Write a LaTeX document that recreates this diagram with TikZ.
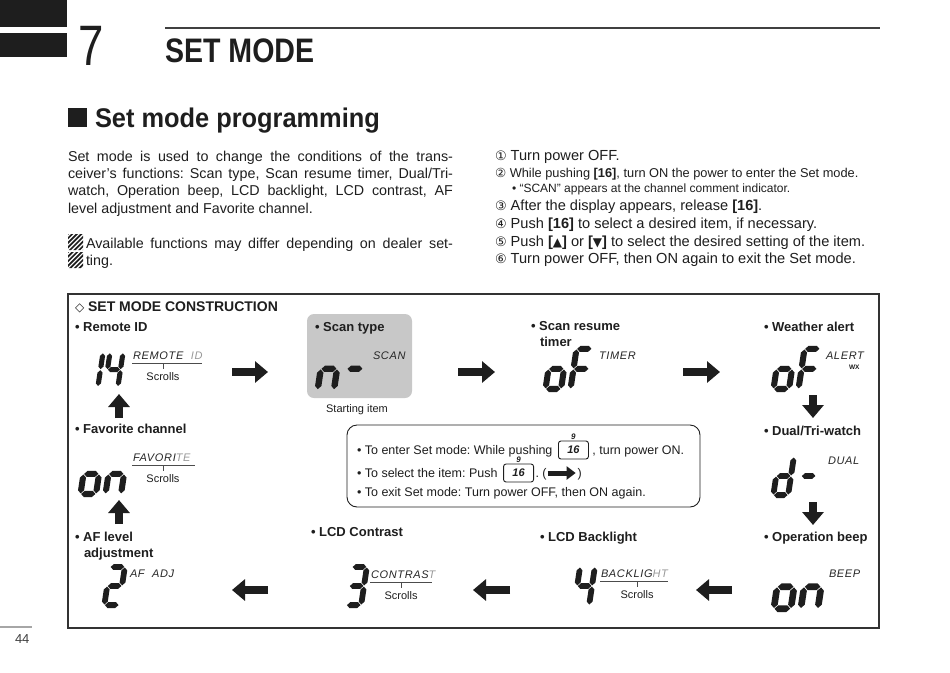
\documentclass[tikz,border=0pt]{standalone}
\usepackage{fontspec}
\usepackage{graphicx}
\setmainfont{Liberation Sans}
\newfontfamily\symf{DejaVu Sans}
\newfontfamily\lcdfont{Liberation Sans}[LetterSpace=6]
\usetikzlibrary{arrows.meta}
\definecolor{boxgray}{RGB}{200,200,200}
\definecolor{ink}{RGB}{30,30,30}
\frenchspacing

% seven-segment pieces (local frame: y up, width 20, height 44)
\newcommand\lcdh[3]{\fill (#1,#3) -- (#1+2.9,#3+2.9) -- (#2-2.9,#3+2.9) -- (#2,#3) -- (#2-2.9,#3-2.9) -- (#1+2.9,#3-2.9) -- cycle;}
\newcommand\lcdv[3]{\fill (#1,#2) -- (#1+2.9,#2+2.9) -- (#1+2.9,#3-2.9) -- (#1,#3) -- (#1-2.9,#3-2.9) -- (#1-2.9,#2+2.9) -- cycle;}
\newcommand\lcdsega{\lcdh{3.5}{17.1}{41.1}}
\newcommand\lcdsegg{\lcdh{3.5}{17.1}{22}}
\newcommand\lcdsegd{\lcdh{3.5}{17.1}{2.9}}
\newcommand\lcdsegf{\lcdv{2.9}{22.6}{40.5}}
\newcommand\lcdsege{\lcdv{2.9}{3.5}{21.4}}
\newcommand\lcdsegb{\lcdv{17.7}{22.6}{40.5}}
\newcommand\lcdsegc{\lcdv{17.7}{3.5}{21.4}}
\newcommand\lcdchar[4]{\begin{scope}[shift={(#1,#2)},scale=#3,xslant=0.15,yscale=-1]\foreach \s in {#4}{\csname lcdseg\s\endcsname}\end{scope}}

\begin{document}
\begin{tikzpicture}[x=1pt,y=-1pt,
  every node/.style={inner sep=0pt,outer sep=0pt,text=ink},
  t14/.style={anchor=base west,font=\fontsize{14.3}{17}\selectfont},
  r14/.style={anchor=base west,font=\fontsize{14.6}{17}\selectfont},
  t12/.style={anchor=base west,font=\fontsize{12.5}{15}\selectfont},
  r12/.style={anchor=base west,font=\fontsize{12.8}{15}\selectfont},
  t11/.style={anchor=base west,font=\fontsize{12}{14}\selectfont},
  lbl/.style={anchor=base west,font=\bfseries\fontsize{13}{15}\selectfont},
  sm/.style={anchor=base,font=\fontsize{11}{13}\selectfont},
  lcd/.style={anchor=base west,font=\lcdfont\itshape\fontsize{11}{13}\selectfont,text=black!85},
  barrow/.style={line width=7.5pt,-{Triangle[length=13pt,width=21pt]},ink},
  sarrow/.style={line width=5pt,-{Triangle[length=9pt,width=13pt]},ink},
  scrollmark/.style={line width=0.6pt,black!70},
  keycap/.style={draw=ink,line width=0.9pt,rounded corners=2.5pt,minimum width=30pt,minimum height=18pt,
    anchor=west,font=\bfseries\itshape\fontsize{11}{11}\selectfont,
    label={[font=\bfseries\itshape\fontsize{8}{8}\selectfont,yshift=1.5pt]above:9}}]
\fill[white] (0,0) rectangle (950,672);
\useasboundingbox (0,0) rectangle (950,672);

% ---------- header ----------
\fill[ink] (0,0) rectangle (67,27);
\fill[ink] (0,33) rectangle (67,57);
\node[anchor=base west,font=\fontsize{57}{57}\selectfont] (chapnum) at (78,65) {\scalebox{0.8}[1]{7}};
\draw[line width=2pt,black!75] (165,28) -- (880,28);
\node[anchor=base west,font=\bfseries\fontsize{34}{34}\selectfont] (chaptitle) at (165,62) {\scalebox{0.84}[1]{SET MODE}};
\fill[ink] (68,108) rectangle (87,127);
\node[anchor=base west,font=\bfseries\fontsize{27}{27}\selectfont] (sectitle) at (95,127) {\scalebox{0.94}[1]{Set mode programming}};

% ---------- left paragraph ----------
\node[t14] (p1) at (68,161) {\makebox[385pt][s]{Set mode is used to change the conditions of the trans-}};
\node[t14] (p2) at (68,178) {\makebox[385pt][s]{ceiver’s functions: Scan type, Scan resume timer, Dual/Tri-}};
\node[t14] (p3) at (68,195) {\makebox[385pt][s]{watch, Operation beep, LCD backlight, LCD contrast, AF}};
\node[t14] (p4) at (68,213) {level adjustment and Favorite channel.};
\begin{scope}
  \clip (68,234) rectangle (83,250) (68,252) rectangle (83,268);
  \foreach \i in {-10,...,12} \draw[line width=1.7pt,ink] (50+\i*4.6,270) -- (90+\i*4.6,230);
\end{scope}
\node[t14] (n1) at (86,248) {\makebox[367pt][s]{Available functions may differ depending on dealer set-}};
\node[t14] (n2) at (86,265) {ting.};

% ---------- right list ----------
\node[r14] (s1) at (495,160) {{\symf\fontsize{13}{13}\selectfont ①} Turn power OFF.};
\node[r12] (s2) at (495,177) {{\symf\fontsize{12.5}{13}\selectfont ②} While pushing \textbf{[16]}, turn ON the power to enter the Set mode.};
\node[t11] (s2b) at (512,192) {• “SCAN” appears at the channel comment indicator.};
\node[r14] (s3) at (495,210) {{\symf\fontsize{13}{13}\selectfont ③} After the display appears, release \textbf{[16]}.};
\node[r14] (s4) at (495,228) {{\symf\fontsize{13}{13}\selectfont ④} Push \textbf{[16]} to select a desired item, if necessary.};
\node[r14] (s5) at (495,246) {{\symf\fontsize{13}{13}\selectfont ⑤} Push \textbf{[{\symf\fontsize{12}{12}\selectfont ▲}]} or \textbf{[{\symf\fontsize{12}{12}\selectfont ▼}]} to select the desired setting of the item.};
\node[r14] (s6) at (495,263) {{\symf\fontsize{13}{13}\selectfont ⑥} Turn power OFF, then ON again to exit the Set mode.};

% ---------- construction box ----------
\draw[line width=1.3pt,black!80] (68,294) rectangle (879,628);
\node[anchor=base west,font=\bfseries\fontsize{14}{16}\selectfont] (ctitle) at (75,311) {{\symf\mdseries\fontsize{12}{12}\selectfont ◇} SET MODE CONSTRUCTION};

\node[fill=boxgray,rounded corners=7pt,minimum width=105pt,minimum height=84pt,anchor=north west] (scanbg) at (307,314) {};

% labels
\node[lbl] (lremote) at (75,331) {• Remote ID};
\node[lbl] (lscan) at (315,331) {• Scan type};
\node[lbl] (ltimer) at (531,330) {• Scan resume};
\node[lbl] (ltimer2) at (540,346) {timer};
\node[lbl] (lwx) at (764,331) {• Weather alert};
\node[lbl] (lfav) at (75,433) {• Favorite channel};
\node[lbl] (ldual) at (764,435) {• Dual/Tri-watch};
\node[lbl] (laf) at (75,541) {• AF level};
\node[lbl] (laf2) at (84,557) {adjustment};
\node[lbl] (lcont) at (311,536) {• LCD Contrast};
\node[lbl] (lback) at (540,541) {• LCD Backlight};
\node[lbl] (lbeep) at (764,541) {• Operation beep};
\node[sm] (start) at (357,412) {Starting item};

% digits
\begin{scope}[ink]
\lcdchar{82}{389}{0.88}{b,c}
\lcdchar{102}{389}{0.88}{b,c,f,g}
\lcdchar{314}{393}{1.1}{c,e,g}
\lcdchar{340}{393}{1.1}{g}
\lcdchar{542}{392}{1.05}{c,d,e,g}
\lcdchar{567}{392}{1.05}{a,e,f,g}
\lcdchar{770}{392}{1.05}{c,d,e,g}
\lcdchar{795}{392}{1.05}{a,e,f,g}
\lcdchar{770}{498}{1.0}{b,c,d,e,g}
\lcdchar{795}{498}{1.0}{g}
\lcdchar{770}{612}{1.15}{c,d,e,g}
\lcdchar{797}{612}{1.15}{c,e,g}
\lcdchar{571}{608}{1.0}{b,c,f,g}
\lcdchar{343}{608}{1.0}{a,b,c,d,g}
\lcdchar{101}{608}{1.0}{a,b,g,e,d}
\lcdchar{77}{497}{1.05}{c,d,e,g}
\lcdchar{102}{497}{1.05}{c,e,g}
\end{scope}

% LCD texts
\node[lcd] (tremote) at (133,359) {REMOTE\ \ \textcolor{black!40}{ID}};
\draw[scrollmark] (132,363) -- (202,363);
\draw[scrollmark] (163,363) -- (163,369);
\node[sm] (scr1) at (163,380) {Scrolls};
\node[lcd] (tscan) at (373,359) {SCAN};
\node[lcd] (ttimer) at (599,359) {TIMER};
\node[lcd] (talert) at (826,359) {ALERT};
\node[anchor=base west,font=\bfseries\fontsize{6.5}{7}\selectfont] (twx) at (849,369) {WX};
\node[lcd] (tdual) at (828,464) {DUAL};
\node[lcd] (tfav) at (133,461) {FAVORI\textcolor{black!40}{TE}};
\draw[scrollmark] (132,465) -- (195,465);
\draw[scrollmark] (163,465) -- (163,471);
\node[sm] (scr2) at (163,482) {Scrolls};
\node[lcd] (taf) at (130,577) {AF\ \ ADJ};
\node[lcd] (tcont) at (371,578) {CONTRAS\textcolor{black!40}{T}};
\draw[scrollmark] (370,582) -- (432,582);
\draw[scrollmark] (401,582) -- (401,588);
\node[sm] (scr3) at (401,599) {Scrolls};
\node[lcd] (tback) at (601,577) {BACKLIG\textcolor{black!40}{HT}};
\draw[scrollmark] (600,581) -- (668,581);
\draw[scrollmark] (637,581) -- (637,587);
\node[sm] (scr4) at (637,598) {Scrolls};
\node[lcd] (tbeep) at (829,577) {BEEP};

% block arrows
\coordinate (r1s) at (232,372); \coordinate (r1e) at (268,372);
\coordinate (r2s) at (458,372); \coordinate (r2e) at (495,372);
\coordinate (r3s) at (683,372); \coordinate (r3e) at (720,372);
\coordinate (d1s) at (813,395); \coordinate (d1e) at (813,418);
\coordinate (d2s) at (813,502); \coordinate (d2e) at (813,525);
\coordinate (l1s) at (732,590); \coordinate (l1e) at (696,590);
\coordinate (l2s) at (510,590); \coordinate (l2e) at (473,590);
\coordinate (l3s) at (268,590); \coordinate (l3e) at (232,590);
\coordinate (u1s) at (119,524); \coordinate (u1e) at (119,500);
\coordinate (u2s) at (119,418); \coordinate (u2e) at (119,394);
\foreach \a in {r1,r2,r3,d1,d2,l1,l2,l3,u1,u2} \draw[barrow] (\a s) -- (\a e);

% info box
\draw[line width=0.9pt,rounded corners=10pt,ink] (347,425) rectangle (700,507);
\node[t12] (i1a) at (357,454) {• To enter Set mode: While pushing};
\node[keycap] (k1) at ([xshift=6pt,yshift=4pt]i1a.base east) {16};
\path (k1.east |- i1a.base) ++(4,0) node[t12] (i1b) {, turn power ON.};
\node[t12] (i2a) at (357,477) {• To select the item: Push};
\node[keycap] (k2) at ([xshift=6pt,yshift=4pt]i2a.base east) {16};
\path (k2.east |- i2a.base) ++(2,0) node[t12] (i2b) {. (};
\coordinate (sa1) at ([xshift=1pt,yshift=4pt]i2b.base east);
\coordinate (sa2) at ([xshift=28pt]sa1);
\draw[sarrow] (sa1) -- (sa2);
\path (sa2 |- i2b.base) ++(2,0) node[t12] (i2c) {)};
\node[t12] (i3) at (357,496) {• To exit Set mode: Turn power OFF, then ON again.};

% page number
\draw[line width=1.5pt,black!35] (0,627) -- (32,627);
\node[anchor=base west,font=\fontsize{13}{13}\selectfont,text=black!75] (pg) at (15,643) {44};
\end{tikzpicture}
\end{document}
